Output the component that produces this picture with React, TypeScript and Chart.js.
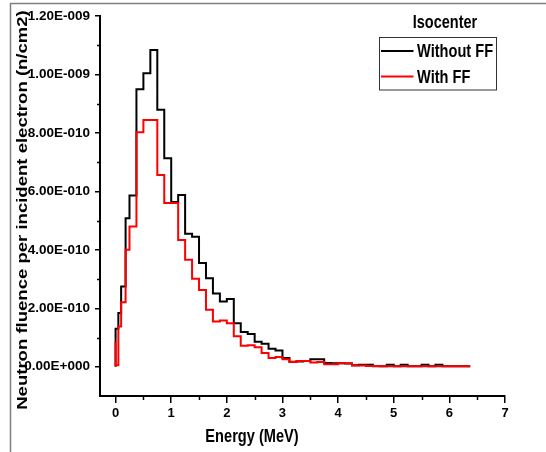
import React, { useEffect, useRef } from "react";
import { Chart, registerables } from "chart.js";

Chart.register(...registerables);

// ---------- data (values in units of 1e-10 n/cm2) ----------
const UNIT = 1e-10;

const energyEdges = [
  0, 0.05, 0.1, 0.18, 0.25, 0.375, 0.5, 0.625, 0.75, 0.875, 1, 1.125, 1.25, 1.375, 1.5, 1.625,
  1.75, 1.875, 2, 2.125, 2.25, 2.375, 2.5, 2.625, 2.75, 2.875, 3, 3.125, 3.25, 3.375, 3.5,
  3.625, 3.75, 3.875, 4, 4.125, 4.25, 4.375, 4.5, 4.625, 4.75, 4.875, 5, 5.125, 5.25, 5.375,
  5.5, 5.625, 5.75, 5.875, 6, 6.125, 6.25, 6.375,
];

const withoutFFStart = 0;
const withoutFF = [
  1.3, 1.84, 2.75, 5.08, 5.86, 9.49, 10.04, 10.84, 8.79, 7.13, 5.64, 5.88, 4.55, 4.45, 3.55,
  3.03, 2.51, 2.23, 2.32, 1.49, 1.19, 1.12, 0.86, 0.79, 0.62, 0.56, 0.3, 0.17, 0.18, 0.2, 0.26,
  0.26, 0.13, 0.12, 0.12, 0.11, 0.05, 0.07, 0.07, 0.02, 0.02, 0.07, 0.02, 0.07, 0.02, 0.02,
  0.07, 0.02, 0.07, 0.02, 0.02, 0.02, 0.02,
];

const withFFStart = 0.86;
const withFF = [
  0.05, 1.38, 2.21, 4.0, 4.8, 8.02, 8.44, 8.44, 6.56, 5.6, 5.6, 4.34, 3.66, 3.01, 2.63, 1.95,
  1.55, 1.58, 1.49, 1.04, 0.72, 0.74, 0.67, 0.47, 0.3, 0.33, 0.26, 0.16, 0.2, 0.2, 0.15, 0.16,
  0.09, 0.09, 0.12, 0.12, 0.04, 0.04, 0.03, 0.03, 0.02, 0.02, 0.02, 0.02, 0.02, 0.02, 0.02,
  0.02, 0.02, 0.02, 0.02, 0.02, 0.02,
];

const seriesLabels = ["Without FF", "With FF"];
const seriesColors = ["#000000", "#ff0000"];
const legendTitle = "Isocenter";
const xTitle = "Energy (MeV)";
const yTitle = "Neutron fluence per incident electron (n/cm2)";

const xTickValues = [0, 1, 2, 3, 4, 5, 6, 7];
const xMinorTicks = [0.5, 1.5, 2.5, 3.5, 4.5, 5.5, 6.5];
const yTickValues = [0, 2, 4, 6, 8, 10, 12];
const yMinorTicks = [1, 3, 5, 7, 9, 11];
const xRange = [-0.28, 7];
const yRange = [-1, 12];

// ---------- helpers ----------
const FONT = '"Liberation Sans", Arial, Helvetica, sans-serif';
const STRETCH = 1.27;

function stepPoints(start: number, values: number[]) {
  const pts = [{ x: energyEdges[0], y: start * UNIT }];
  values.forEach((v, i) => pts.push({ x: energyEdges[i], y: v * UNIT }));
  pts.push({ x: energyEdges[energyEdges.length - 1], y: values[values.length - 1] * UNIT });
  return pts;
}

function fmtSci(v: number) {
  const [m, e] = v.toExponential(2).split("e");
  const n = parseInt(e, 10);
  return m + "E" + (n < 0 ? "-" : "+") + String(Math.abs(n)).padStart(3, "0");
}

function stretchedText(
  ctx: CanvasRenderingContext2D,
  text: string,
  x: number,
  y: number,
  size: number,
  align: CanvasTextAlign,
  rotate = false
) {
  ctx.save();
  ctx.translate(x, y);
  if (rotate) {
    ctx.rotate(-Math.PI / 2);
    ctx.scale(STRETCH, 1);
  } else {
    ctx.scale(1, STRETCH);
  }
  ctx.font = `bold ${size}px ${FONT}`;
  ctx.fillStyle = "#000";
  ctx.textAlign = align;
  ctx.textBaseline = "alphabetic";
  ctx.fillText(text, 0, 0);
  ctx.restore();
}

const decorPlugin = {
  id: "decor",
  beforeDraw(chart: any) {
    const ctx = chart.ctx as CanvasRenderingContext2D;
    ctx.save();
    ctx.strokeStyle = "#7f7f7f";
    ctx.lineWidth = 1.5;
    ctx.beginPath();
    ctx.moveTo(10.5, chart.height);
    ctx.lineTo(10.5, 3.5);
    ctx.lineTo(chart.width, 3.5);
    ctx.stroke();
    ctx.restore();
  },
  afterDraw(chart: any) {
    const ctx = chart.ctx as CanvasRenderingContext2D;
    const xs = chart.scales.x;
    const ys = chart.scales.y;
    const area = chart.chartArea;
    ctx.save();
    ctx.strokeStyle = "#000";
    ctx.lineWidth = 1.5;
    ctx.beginPath();
    xMinorTicks.forEach((v) => {
      const px = Math.round(xs.getPixelForValue(v)) + 0.5;
      ctx.moveTo(px, area.bottom);
      ctx.lineTo(px, area.bottom + 4);
    });
    yMinorTicks.forEach((v) => {
      const py = Math.round(ys.getPixelForValue(v * UNIT)) + 0.5;
      ctx.moveTo(area.left - 3, py);
      ctx.lineTo(area.left, py);
    });
    ctx.stroke();
    ctx.restore();

    // axis titles
    stretchedText(ctx, xTitle, 252, 441.5, 14.6, "center");
    stretchedText(ctx, yTitle, 26.5, 210, 14.6, "center", true);

    // legend
    stretchedText(ctx, legendTitle, 445, 28.3, 14.5, "center");
    ctx.save();
    ctx.strokeStyle = "#333";
    ctx.lineWidth = 1;
    ctx.strokeRect(379.5, 37.5, 117, 52.5);
    ctx.restore();
    const rows = [51, 76.5];
    const baselines = [57.3, 83.3];
    chart.data.datasets.forEach((ds: any, i: number) => {
      ctx.save();
      ctx.strokeStyle = ds.borderColor;
      ctx.lineWidth = 2;
      ctx.beginPath();
      ctx.moveTo(381, rows[i]);
      ctx.lineTo(413.5, rows[i]);
      ctx.stroke();
      ctx.restore();
      stretchedText(ctx, ds.label, 417, baselines[i], 14.6, "left");
    });
  },
};

export default function App() {
  const canvasRef = useRef<HTMLCanvasElement | null>(null);

  useEffect(() => {
    if (!canvasRef.current) return;
    const tickFont = { family: FONT, weight: "bold" as const };
    const chart = new Chart(canvasRef.current, {
      type: "line",
      data: {
        datasets: [
          {
            label: seriesLabels[0],
            data: stepPoints(withoutFFStart, withoutFF),
            borderColor: seriesColors[0],
            borderWidth: 2,
            stepped: "before",
            pointRadius: 0,
            fill: false,
            order: 1,
            borderJoinStyle: "miter",
          },
          {
            label: seriesLabels[1],
            data: stepPoints(withFFStart, withFF),
            borderColor: seriesColors[1],
            borderWidth: 2,
            stepped: "before",
            pointRadius: 0,
            fill: false,
            order: 0,
            borderJoinStyle: "miter",
          },
        ],
      },
      options: {
        animation: false,
        responsive: true,
        maintainAspectRatio: false,
        layout: { padding: { top: 16, right: 41, left: 0, bottom: 0 } },
        plugins: { legend: { display: false }, tooltip: { enabled: false } },
        scales: {
          x: {
            type: "linear",
            min: xRange[0],
            max: xRange[1],
            afterBuildTicks: (s: any) => {
              s.ticks = xTickValues.map((v) => ({ value: v }));
            },
            afterFit: (s: any) => {
              s.height = 56;
            },
            ticks: {
              font: { ...tickFont, size: 13 },
              color: "#000",
              padding: 3,
              autoSkip: false,
              maxRotation: 0,
              callback: (v: any) => String(v),
            },
            grid: {
              display: true,
              drawOnChartArea: false,
              drawTicks: true,
              tickLength: 7,
              color: "#000",
              lineWidth: 1.5,
            },
            border: { display: true, color: "#000", width: 2 },
          },
          y: {
            type: "linear",
            min: yRange[0] * UNIT,
            max: yRange[1] * UNIT,
            afterBuildTicks: (s: any) => {
              s.ticks = yTickValues.map((v) => ({ value: v * UNIT }));
            },
            afterFit: (s: any) => {
              s.width = 100;
            },
            ticks: {
              font: { ...tickFont, size: 13.5 },
              color: "#000",
              padding: 5,
              autoSkip: false,
              callback: (v: any) => fmtSci(Number(v)),
            },
            grid: {
              display: true,
              drawOnChartArea: false,
              drawTicks: true,
              tickLength: 5,
              color: "#000",
              lineWidth: 1.5,
            },
            border: { display: true, color: "#000", width: 2 },
          },
        },
      } as any,
      plugins: [decorPlugin],
    });
    return () => chart.destroy();
  }, []);

  return (
    <div style={{ position: "fixed", left: 0, top: 0, width: 546, height: 452, background: "#fff" }}>
      <canvas ref={canvasRef} />
    </div>
  );
}
